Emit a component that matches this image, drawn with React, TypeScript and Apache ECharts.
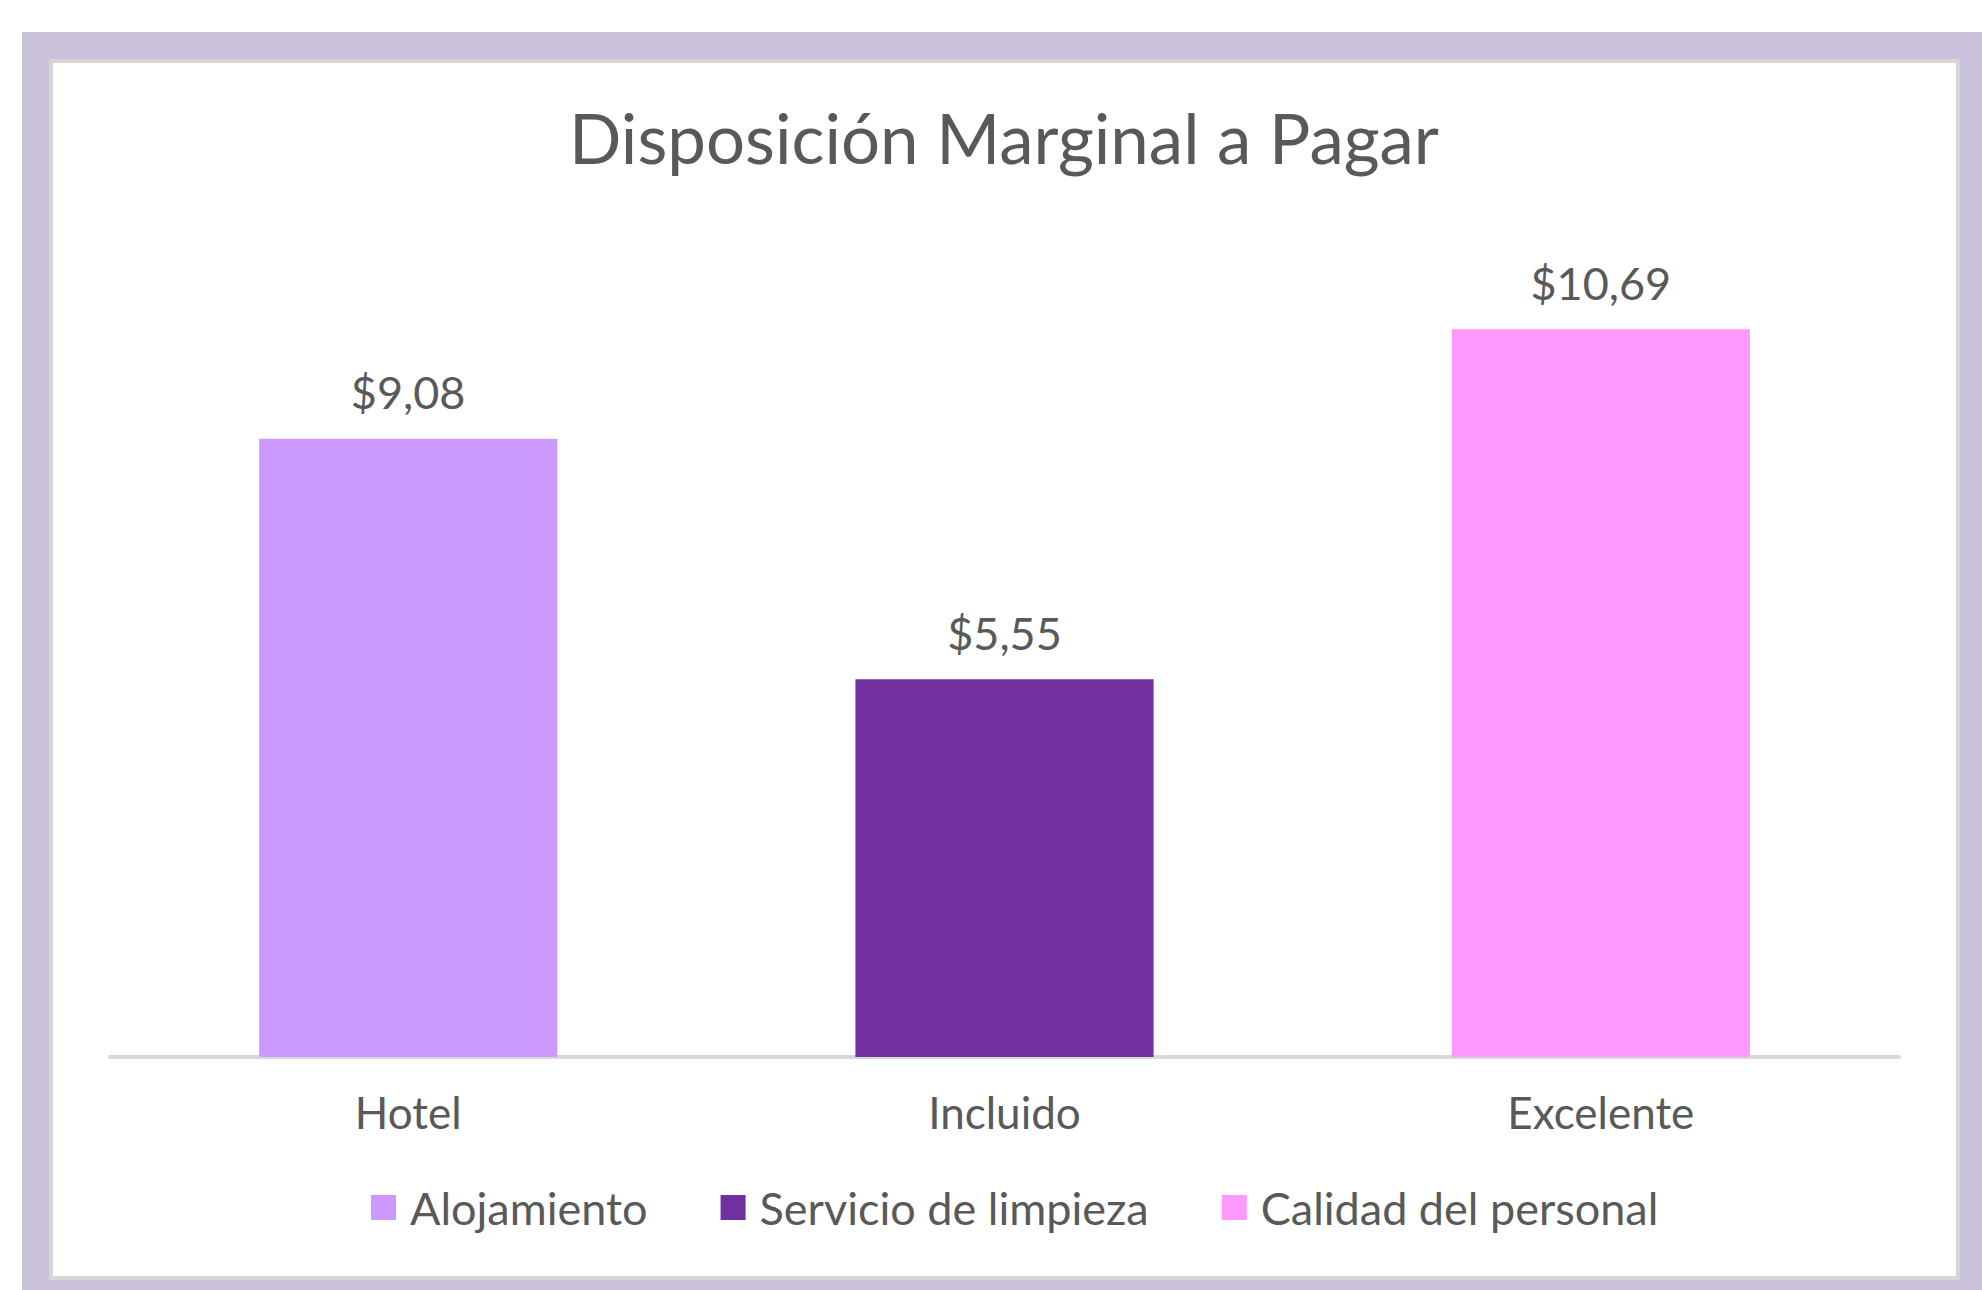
import React, { useEffect, useRef } from "react";
import * as echarts from "echarts";

const categories = ["Hotel", "Incluido", "Excelente"];
const seriesNames = ["Alojamiento", "Servicio de limpieza", "Calidad del personal"];
const alojamiento = [9.08, "-", "-"];
const servicioLimpieza = ["-", 5.55, "-"];
const calidadPersonal = ["-", "-", 10.69];
const seriesColors = ["#CC99FF", "#7030A0", "#FF99FF"];
const titleText = "Disposición Marginal a Pagar";

const FONT = "Lato";
const TEXT_COLOR = "#595959";

export default function App() {
  const ref = useRef<HTMLDivElement>(null);
  useEffect(() => {
    if (!ref.current) return;
    const chart = echarts.init(ref.current, null, { renderer: "svg" });
    const fmt = (p: any) => "$" + Number(p.value).toFixed(2).replace(".", ",");
    const dataSets = [alojamiento, servicioLimpieza, calidadPersonal];
    chart.setOption({
      animation: false,
      backgroundColor: "#FFFFFF",
      graphic: [
        {
          type: "rect",
          z: -10,
          silent: true,
          shape: { x: 22, y: 32, width: 1960, height: 1258 },
          style: { fill: "#CAC2DB" },
        },
        {
          type: "rect",
          z: -9,
          silent: true,
          shape: { x: 51, y: 61, width: 1907, height: 1217 },
          style: { fill: "#FFFFFF", stroke: "#D6D6D6", lineWidth: 4 },
        },
        {
          type: "text",
          z: 10,
          silent: true,
          x: 1004,
          y: 103,
          style: {
            text: titleText,
            textAlign: "center",
            textVerticalAlign: "top",
            fontFamily: FONT,
            fontSize: 69,
            fontWeight: "normal",
            fill: TEXT_COLOR,
          },
        },
      ],
      legend: {
        data: seriesNames,
        left: 366,
        top: 1180,
        icon: "rect",
        itemWidth: 25,
        itemHeight: 25,
        itemGap: 73,
        textStyle: { fontFamily: FONT, fontSize: 45, color: TEXT_COLOR, padding: [0, 0, 0, 9] },
      },
      grid: { left: 110, right: 83, top: 240, bottom: 233 },
      xAxis: {
        type: "category",
        data: categories,
        axisLine: { show: true, lineStyle: { color: "#D9D9D9", width: 4 } },
        axisTick: { show: false },
        axisLabel: { fontFamily: FONT, fontSize: 44, color: TEXT_COLOR, margin: 33 },
      },
      yAxis: {
        type: "value",
        min: 0,
        max: 12,
        show: false,
        splitLine: { show: false },
      },
      series: seriesNames.map((name, i) => ({
        name,
        type: "bar",
        stack: "total",
        barWidth: "50%",
        data: dataSets[i],
        itemStyle: { color: seriesColors[i] },
        label: {
          show: true,
          position: "top",
          distance: 24,
          formatter: fmt,
          fontFamily: FONT,
          fontSize: 45,
          color: TEXT_COLOR,
        },
      })),
    });
    return () => chart.dispose();
  }, []);
  return (
    <div
      ref={ref}
      style={{ position: "fixed", left: 0, top: 0, width: 1982, height: 1290 }}
    />
  );
}
